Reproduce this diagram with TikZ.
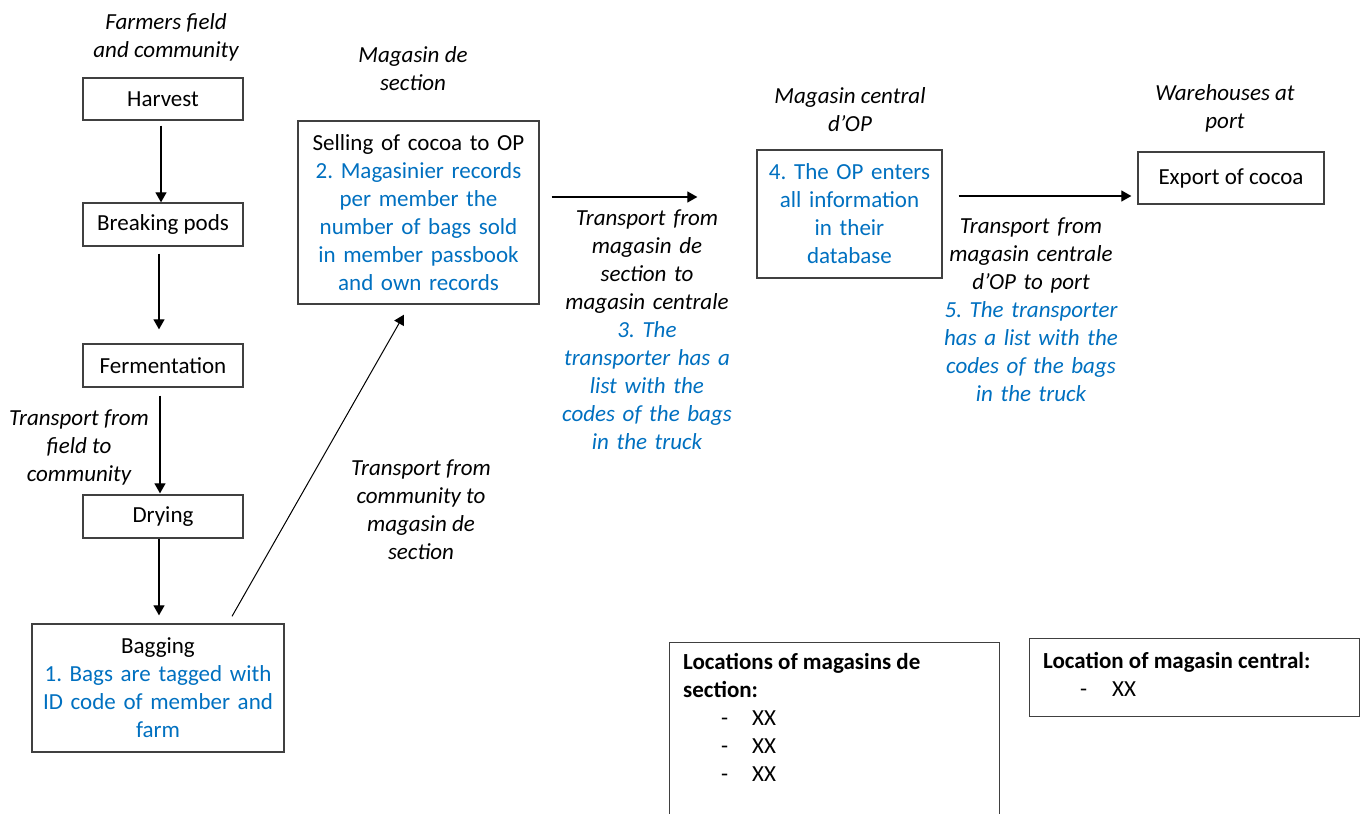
\documentclass[tikz,border=0pt]{standalone}
\usepackage{fontspec}
\setmainfont{Carlito}
\usetikzlibrary{arrows.meta}
\definecolor{noteblue}{HTML}{0070C0}
\newcommand{\bodysize}{\fontsize{23}{28}\selectfont\frenchspacing}

\begin{document}
\begin{tikzpicture}[
    x=1pt, y=-1pt,
    stage/.style={
      % The shape:
      rectangle,
      % The border:
      draw=black!75,
      line width=1.3pt,
      % The text:
      inner sep=0pt,
      align=center,
      font=\bodysize,
    },
    place/.style={
      font=\bodysize\itshape,
      inner sep=0pt,
      align=center,
    },
    panel/.style={
      rectangle,
      draw=black!75,
      line width=1.3pt,
      inner sep=0pt,
      anchor=north west,
    },
    listing/.style={
      font=\bodysize,
      inner sep=0pt,
      anchor=north west,
      align=left,
    },
    flow/.style={-{Triangle[length=10pt,width=11pt]}, line width=1.2pt},
  ]

    \useasboundingbox (0,0) rectangle (1366,814);

    % Locations on the chain
    \node[place] (fieldlbl) at (166,37) {Farmers field\\ and community};
    \node[place] (sectionlbl) at (413,69) {Magasin de\\ section};
    \node[place] (centrallbl) at (850,110) {Magasin central\\ d’OP};
    \node[place] (portlbl) at (1225,108) {Warehouses at\\ port};

    % Steps
    \node[stage, minimum width=160pt, minimum height=42pt] (harvest) at (163,99) {Harvest};
    \node[stage, minimum width=160pt, minimum height=43pt] (breaking) at (163,224.5) {Breaking pods};
    \node[stage, minimum width=160pt, minimum height=43pt] (fermentation) at (163,365.5) {Fermentation};
    \node[stage, minimum width=160pt, minimum height=43pt] (drying) at (163,516.5) {Drying};
    \node[stage, minimum width=252pt, minimum height=128pt, text width=240pt] (bagging) at (158,688)
          {Bagging\\ \color{noteblue}1. Bags are tagged with\\ ID code of member and\\ farm};
    \node[stage, minimum width=241pt, minimum height=183pt, text width=230pt] (selling) at (418.5,212.5)
          {Selling of cocoa to OP\\ \color{noteblue}2. Magasinier records\\ per member the\\
           number of bags sold\\ in member passbook\\ and own records};
    \node[stage, minimum width=185pt, minimum height=128pt, text width=175pt] (central) at (849.5,214)
          {\color{noteblue}4. The OP enters\\ all information\\ in their\\ database};
    \node[stage, minimum width=186pt, minimum height=52pt] (export) at (1231,178) {Export of cocoa};

    % Transport labels
    \node[place] (fieldtr) at (79,447) {Transport from\\ field to\\ community};
    \node[place] (commtr) at (421,510) {Transport from\\ community to\\ magasin de\\ section};
    \node[place, text width=200pt] (sectiontr) at (647,330)
          {Transport from\\ magasin de\\ section to\\ magasin centrale\\
           \color{noteblue}3. The\\ transporter has a\\ list with the\\ codes of the bags\\ in the truck};
    \node[place, text width=200pt] (porttr) at (1031,310)
          {Transport from\\ magasin centrale\\ d’OP to port\\
           \color{noteblue}5. The transporter\\ has a list with the\\ codes of the bags\\ in the truck};

    % Arrows
    \draw[flow] ([xshift=-2pt, yshift=-5pt]harvest.south) -- ([xshift=-2pt]breaking.north);
    \draw[flow] ([xshift=-4pt, yshift=-7pt]breaking.south) -- ([xshift=-4pt, yshift=14pt]fermentation.north);
    \draw[flow] ([xshift=-3pt, yshift=-8pt]fermentation.south) -- ([xshift=-3pt, yshift=1pt]drying.north);
    \draw[flow] ([xshift=-4pt]drying.south) -- ([xshift=1pt, yshift=8pt]bagging.north);
    \draw[flow, line width=1pt] ([xshift=74pt, yshift=7pt]bagging.north) -- ([xshift=-14.5pt, yshift=-10pt]selling.south);
    \draw[flow] ([xshift=12pt, yshift=15.5pt]selling.east) -- ([xshift=-59pt, yshift=17pt]central.west);
    \draw[flow] ([xshift=16pt, yshift=18pt]central.east) -- ([xshift=-6pt, yshift=-18pt]export.west);

    % Location lists
    \node[panel, minimum width=330pt, minimum height=200pt] (sectionlist) at (669,642) {};
    \node[listing] (sectionlisttext) at ([xshift=14pt, yshift=-11pt]sectionlist.north west)
          {\textbf{Locations of magasins de}\\ \textbf{section:}\\
           \hspace*{38pt}-\hspace*{24pt}XX\\ \hspace*{38pt}-\hspace*{24pt}XX\\ \hspace*{38pt}-\hspace*{24pt}XX};
    \node[panel, minimum width=330pt, minimum height=78pt] (centrallist) at (1029,638) {};
    \node[listing] (centrallisttext) at ([xshift=14pt, yshift=-14pt]centrallist.north west)
          {\textbf{Location of magasin central:}\\ \hspace*{37pt}-\hspace*{25pt}XX};
  \end{tikzpicture}
\end{document}
